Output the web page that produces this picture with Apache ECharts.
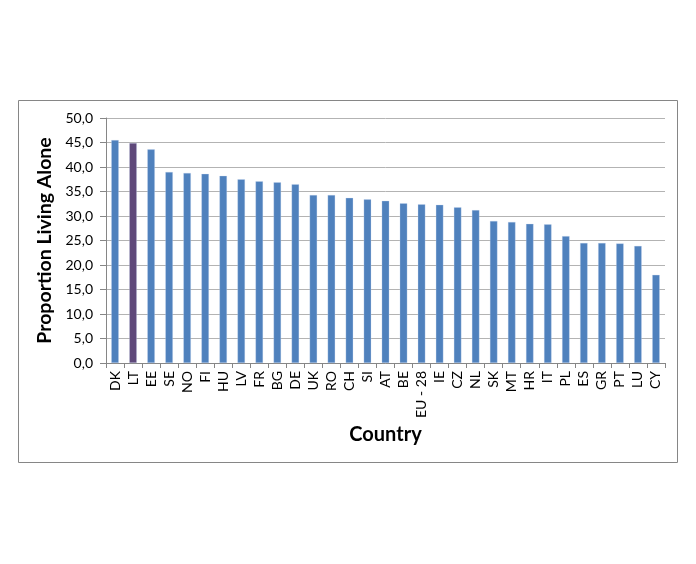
<!DOCTYPE html>
<html><head><meta charset="utf-8">
<script src="https://cdn.jsdelivr.net/npm/echarts@6/dist/echarts.min.js"></script>
<style>html,body{margin:0;padding:0;background:#fff}#c{width:696px;height:564px}</style>
</head><body><div id="c"></div>
<script>
const categories = ['DK','LT','EE','SE','NO','FI','HU','LV','FR','BG','DE','UK','RO','CH','SI','AT','BE','EU - 28','IE','CZ','NL','SK','MT','HR','IT','PL','ES','GR','PT','LU','CY'];
const values = [45.5,44.9,43.6,39.0,38.8,38.6,38.2,37.5,37.1,36.9,36.5,34.3,34.3,33.7,33.4,33.1,32.6,32.4,32.3,31.8,31.2,29.0,28.8,28.4,28.3,25.9,24.5,24.5,24.4,23.9,18.0];
const highlight = 'LT';
const yTitle = 'Proportion Living Alone';
const xTitle = 'Country';

const chart = echarts.init(document.getElementById('c'));
const font = 'Lato, "Open Sans", sans-serif';
chart.setOption({
  animation: false,
  backgroundColor: '#fff',
  graphic: [{type:'rect', shape:{x:18.5,y:100.5,width:659,height:362}, style:{fill:'none', stroke:'#868686', lineWidth:1}, z:-1}],
  grid: {left:106, right:31, top:118, bottom:201, containLabel:false},
  xAxis: {
    type:'category', data:categories,
    name: xTitle, nameLocation:'middle', nameGap:62,
    nameTextStyle:{fontFamily:font, fontWeight:'bold', fontSize:20, color:'#000'},
    axisLine:{lineStyle:{color:'#868686'}},
    axisTick:{show:true, alignWithLabel:false, length:5, lineStyle:{color:'#868686'}},
    axisLabel:{rotate:90, interval:0, fontFamily:font, fontSize:14, color:'#000', margin:8}
  },
  yAxis: {
    type:'value', min:0, max:50, interval:5,
    name: yTitle, nameLocation:'middle', nameGap:46,
    nameTextStyle:{fontFamily:font, fontWeight:'bold', fontSize:19.5, color:'#000'},
    axisLine:{show:true, lineStyle:{color:'#868686'}},
    axisTick:{show:true, length:6, lineStyle:{color:'#868686'}},
    axisLabel:{fontFamily:font, fontSize:14, color:'#000', margin:13, formatter: v => v.toFixed(1).replace('.', ',')},
    splitLine:{lineStyle:{color:'#b3b3b3'}}
  },
  series: [{
    type:'bar', barCategoryGap:'58%',
    data: values.map((v,i) => ({value:v, itemStyle:{color: categories[i]===highlight ? '#5F497A' : '#4F81BD'}})),
    itemStyle:{borderColor:'rgba(200,215,240,0.6)', borderWidth:0.5}
  }]
});
</script></body></html>
